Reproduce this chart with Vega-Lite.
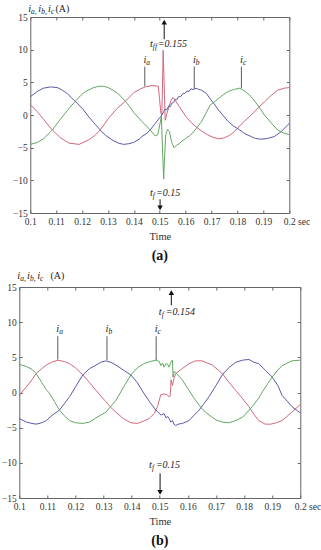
{
  "$schema": "https://vega.github.io/schema/vega-lite/v6.json",
  "padding": {"top": 3, "left": 1, "right": 0, "bottom": 0},
  "background": "white",
  "datasets": {
    "ca": [
      {"s":"ia","t":0.1000,"v":1.6},{"s":"ia","t":0.1027,"v":0.5},{"s":"ia","t":0.1052,"v":-0.7},{"s":"ia","t":0.1085,"v":-2.3},{"s":"ia","t":0.1117,"v":-3.5},{"s":"ia","t":0.1149,"v":-4.3},{"s":"ia","t":0.1188,"v":-4.5},{"s":"ia","t":0.1226,"v":-3.8},{"s":"ia","t":0.1250,"v":-3.1},{"s":"ia","t":0.1270,"v":-2.3},{"s":"ia","t":0.1302,"v":-0.5},{"s":"ia","t":0.1335,"v":1.0},{"s":"ia","t":0.1367,"v":2.1},{"s":"ia","t":0.1399,"v":3.4},{"s":"ia","t":0.1425,"v":4.0},{"s":"ia","t":0.1444,"v":4.3},{"s":"ia","t":0.1470,"v":4.5},{"s":"ia","t":0.1494,"v":4.4},{"s":"ia","t":0.1499,"v":2.5},{"s":"ia","t":0.1504,"v":0.3},{"s":"ia","t":0.1508,"v":0.0},{"s":"ia","t":0.1513,"v":9.9},{"s":"ia","t":0.1518,"v":3.0},{"s":"ia","t":0.1521,"v":-0.8},{"s":"ia","t":0.1527,"v":0.2},{"s":"ia","t":0.1535,"v":1.2},{"s":"ia","t":0.1543,"v":2.2},{"s":"ia","t":0.1551,"v":2.7},{"s":"ia","t":0.1560,"v":2.2},{"s":"ia","t":0.1575,"v":1.3},{"s":"ia","t":0.1600,"v":-0.2},{"s":"ia","t":0.1620,"v":-1.1},{"s":"ia","t":0.1643,"v":-1.9},{"s":"ia","t":0.1663,"v":-2.5},{"s":"ia","t":0.1683,"v":-3.0},{"s":"ia","t":0.1705,"v":-3.4},{"s":"ia","t":0.1726,"v":-3.65},{"s":"ia","t":0.1750,"v":-3.5},{"s":"ia","t":0.1770,"v":-3.1},{"s":"ia","t":0.1789,"v":-2.5},{"s":"ia","t":0.1820,"v":-1.2},{"s":"ia","t":0.1853,"v":0.0},{"s":"ia","t":0.1880,"v":1.1},{"s":"ia","t":0.1904,"v":2.0},{"s":"ia","t":0.1930,"v":3.0},{"s":"ia","t":0.1955,"v":3.8},{"s":"ia","t":0.1980,"v":4.1},{"s":"ia","t":0.2000,"v":4.2},
      {"s":"ib","t":0.1000,"v":2.8},{"s":"ib","t":0.1027,"v":3.6},{"s":"ib","t":0.1050,"v":4.1},{"s":"ib","t":0.1078,"v":4.3},{"s":"ib","t":0.1104,"v":4.2},{"s":"ib","t":0.1120,"v":3.9},{"s":"ib","t":0.1142,"v":3.3},{"s":"ib","t":0.1160,"v":2.6},{"s":"ib","t":0.1181,"v":1.8},{"s":"ib","t":0.1205,"v":0.8},{"s":"ib","t":0.1226,"v":-0.3},{"s":"ib","t":0.1250,"v":-1.4},{"s":"ib","t":0.1270,"v":-2.3},{"s":"ib","t":0.1290,"v":-3.1},{"s":"ib","t":0.1315,"v":-3.8},{"s":"ib","t":0.1340,"v":-4.3},{"s":"ib","t":0.1360,"v":-4.5},{"s":"ib","t":0.1380,"v":-4.4},{"s":"ib","t":0.1399,"v":-4.2},{"s":"ib","t":0.1420,"v":-3.7},{"s":"ib","t":0.1431,"v":-3.3},{"s":"ib","t":0.1450,"v":-2.8},{"s":"ib","t":0.1463,"v":-2.3},{"s":"ib","t":0.1480,"v":-1.4},{"s":"ib","t":0.1500,"v":-0.4},{"s":"ib","t":0.1508,"v":0.0},{"s":"ib","t":0.1515,"v":0.5},{"s":"ib","t":0.1520,"v":0.9},{"s":"ib","t":0.1527,"v":0.8},{"s":"ib","t":0.1535,"v":1.4},{"s":"ib","t":0.1541,"v":1.3},{"s":"ib","t":0.1546,"v":1.8},{"s":"ib","t":0.1553,"v":1.9},{"s":"ib","t":0.1560,"v":2.4},{"s":"ib","t":0.1565,"v":2.3},{"s":"ib","t":0.1572,"v":2.8},{"s":"ib","t":0.1580,"v":2.8},{"s":"ib","t":0.1590,"v":3.3},{"s":"ib","t":0.1597,"v":3.3},{"s":"ib","t":0.1605,"v":3.7},{"s":"ib","t":0.1613,"v":3.6},{"s":"ib","t":0.1620,"v":4.0},{"s":"ib","t":0.1629,"v":3.9},{"s":"ib","t":0.1640,"v":4.1},{"s":"ib","t":0.1650,"v":3.9},{"s":"ib","t":0.1661,"v":3.8},{"s":"ib","t":0.1680,"v":3.3},{"s":"ib","t":0.1694,"v":2.5},{"s":"ib","t":0.1710,"v":1.7},{"s":"ib","t":0.1726,"v":0.8},{"s":"ib","t":0.1745,"v":-0.1},{"s":"ib","t":0.1764,"v":-1.0},{"s":"ib","t":0.1785,"v":-1.7},{"s":"ib","t":0.1809,"v":-2.3},{"s":"ib","t":0.1830,"v":-2.9},{"s":"ib","t":0.1853,"v":-3.3},{"s":"ib","t":0.1870,"v":-3.6},{"s":"ib","t":0.1891,"v":-3.7},{"s":"ib","t":0.1915,"v":-3.6},{"s":"ib","t":0.1942,"v":-3.3},{"s":"ib","t":0.1970,"v":-2.5},{"s":"ib","t":0.1994,"v":-1.5},{"s":"ib","t":0.2000,"v":-1.3},
      {"s":"ic","t":0.1000,"v":-4.5},{"s":"ic","t":0.1027,"v":-4.2},{"s":"ic","t":0.1052,"v":-3.6},{"s":"ic","t":0.1085,"v":-2.3},{"s":"ic","t":0.1100,"v":-1.5},{"s":"ic","t":0.1117,"v":-0.6},{"s":"ic","t":0.1149,"v":1.0},{"s":"ic","t":0.1174,"v":2.1},{"s":"ic","t":0.1195,"v":3.0},{"s":"ic","t":0.1213,"v":3.6},{"s":"ic","t":0.1245,"v":4.2},{"s":"ic","t":0.1265,"v":4.4},{"s":"ic","t":0.1283,"v":4.4},{"s":"ic","t":0.1300,"v":4.2},{"s":"ic","t":0.1315,"v":3.9},{"s":"ic","t":0.1341,"v":3.2},{"s":"ic","t":0.1367,"v":2.1},{"s":"ic","t":0.1385,"v":1.2},{"s":"ic","t":0.1399,"v":0.4},{"s":"ic","t":0.1431,"v":-1.0},{"s":"ic","t":0.1463,"v":-2.3},{"s":"ic","t":0.1482,"v":-3.2},{"s":"ic","t":0.1492,"v":-3.0},{"s":"ic","t":0.1500,"v":-1.5},{"s":"ic","t":0.1506,"v":-0.2},{"s":"ic","t":0.1511,"v":-6.0},{"s":"ic","t":0.1515,"v":-9.8},{"s":"ic","t":0.1519,"v":-6.0},{"s":"ic","t":0.1523,"v":-3.0},{"s":"ic","t":0.1530,"v":-2.2},{"s":"ic","t":0.1537,"v":-2.5},{"s":"ic","t":0.1546,"v":-4.2},{"s":"ic","t":0.1555,"v":-5.0},{"s":"ic","t":0.1565,"v":-4.6},{"s":"ic","t":0.1575,"v":-4.4},{"s":"ic","t":0.1585,"v":-4.0},{"s":"ic","t":0.1600,"v":-3.6},{"s":"ic","t":0.1618,"v":-3.1},{"s":"ic","t":0.1636,"v":-2.3},{"s":"ic","t":0.1661,"v":-1.0},{"s":"ic","t":0.1680,"v":0.4},{"s":"ic","t":0.1694,"v":1.5},{"s":"ic","t":0.1726,"v":2.5},{"s":"ic","t":0.1745,"v":3.1},{"s":"ic","t":0.1764,"v":3.6},{"s":"ic","t":0.1785,"v":3.9},{"s":"ic","t":0.1809,"v":4.1},{"s":"ic","t":0.1830,"v":3.6},{"s":"ic","t":0.1853,"v":2.8},{"s":"ic","t":0.1880,"v":1.4},{"s":"ic","t":0.1904,"v":0.0},{"s":"ic","t":0.1930,"v":-1.2},{"s":"ic","t":0.1955,"v":-2.3},{"s":"ic","t":0.1980,"v":-2.8},{"s":"ic","t":0.2000,"v":-3.0}
    ],
    "cb": [
      {"s":"ia","t":0.1000,"v":-0.4},{"s":"ia","t":0.1025,"v":0.8},{"s":"ia","t":0.1045,"v":1.8},{"s":"ia","t":0.1060,"v":2.7},{"s":"ia","t":0.1080,"v":3.4},{"s":"ia","t":0.1096,"v":3.9},{"s":"ia","t":0.1115,"v":4.3},{"s":"ia","t":0.1137,"v":4.6},{"s":"ia","t":0.1160,"v":4.4},{"s":"ia","t":0.1179,"v":4.1},{"s":"ia","t":0.1200,"v":3.5},{"s":"ia","t":0.1226,"v":2.5},{"s":"ia","t":0.1250,"v":1.4},{"s":"ia","t":0.1273,"v":0.3},{"s":"ia","t":0.1290,"v":-0.5},{"s":"ia","t":0.1308,"v":-1.3},{"s":"ia","t":0.1325,"v":-2.1},{"s":"ia","t":0.1344,"v":-2.8},{"s":"ia","t":0.1370,"v":-3.7},{"s":"ia","t":0.1397,"v":-4.3},{"s":"ia","t":0.1420,"v":-4.4},{"s":"ia","t":0.1440,"v":-4.1},{"s":"ia","t":0.1462,"v":-3.7},{"s":"ia","t":0.1480,"v":-3.0},{"s":"ia","t":0.1492,"v":-2.0},{"s":"ia","t":0.1500,"v":-0.8},{"s":"ia","t":0.1504,"v":-0.3},{"s":"ia","t":0.1515,"v":-0.2},{"s":"ia","t":0.1525,"v":-0.3},{"s":"ia","t":0.1533,"v":-0.6},{"s":"ia","t":0.1537,"v":-0.5},{"s":"ia","t":0.1540,"v":1.8},{"s":"ia","t":0.1545,"v":1.0},{"s":"ia","t":0.1550,"v":2.0},{"s":"ia","t":0.1557,"v":2.7},{"s":"ia","t":0.1580,"v":3.4},{"s":"ia","t":0.1604,"v":4.1},{"s":"ia","t":0.1627,"v":4.5},{"s":"ia","t":0.1650,"v":4.5},{"s":"ia","t":0.1675,"v":4.1},{"s":"ia","t":0.1687,"v":3.9},{"s":"ia","t":0.1722,"v":2.7},{"s":"ia","t":0.1745,"v":1.5},{"s":"ia","t":0.1770,"v":0.3},{"s":"ia","t":0.1795,"v":-0.9},{"s":"ia","t":0.1817,"v":-2.0},{"s":"ia","t":0.1835,"v":-3.1},{"s":"ia","t":0.1852,"v":-4.0},{"s":"ia","t":0.1875,"v":-4.5},{"s":"ia","t":0.1895,"v":-4.5},{"s":"ia","t":0.1915,"v":-4.3},{"s":"ia","t":0.1935,"v":-4.0},{"s":"ia","t":0.1970,"v":-2.8},{"s":"ia","t":0.2000,"v":-1.7},
      {"s":"ib","t":0.1000,"v":-3.7},{"s":"ib","t":0.1025,"v":-4.2},{"s":"ib","t":0.1045,"v":-4.4},{"s":"ib","t":0.1060,"v":-4.5},{"s":"ib","t":0.1080,"v":-4.3},{"s":"ib","t":0.1096,"v":-4.0},{"s":"ib","t":0.1115,"v":-3.3},{"s":"ib","t":0.1143,"v":-2.5},{"s":"ib","t":0.1160,"v":-1.6},{"s":"ib","t":0.1179,"v":-0.6},{"s":"ib","t":0.1200,"v":0.8},{"s":"ib","t":0.1226,"v":2.5},{"s":"ib","t":0.1250,"v":3.4},{"s":"ib","t":0.1273,"v":3.9},{"s":"ib","t":0.1290,"v":4.3},{"s":"ib","t":0.1308,"v":4.5},{"s":"ib","t":0.1325,"v":4.3},{"s":"ib","t":0.1344,"v":3.9},{"s":"ib","t":0.1370,"v":3.2},{"s":"ib","t":0.1397,"v":2.5},{"s":"ib","t":0.1420,"v":1.4},{"s":"ib","t":0.1443,"v":-0.1},{"s":"ib","t":0.1465,"v":-1.4},{"s":"ib","t":0.1486,"v":-2.5},{"s":"ib","t":0.1504,"v":-3.2},{"s":"ib","t":0.1515,"v":-3.0},{"s":"ib","t":0.1522,"v":-3.6},{"s":"ib","t":0.1528,"v":-3.4},{"s":"ib","t":0.1533,"v":-3.7},{"s":"ib","t":0.1539,"v":-4.2},{"s":"ib","t":0.1545,"v":-4.0},{"s":"ib","t":0.1550,"v":-4.5},{"s":"ib","t":0.1557,"v":-4.7},{"s":"ib","t":0.1565,"v":-4.5},{"s":"ib","t":0.1580,"v":-4.4},{"s":"ib","t":0.1604,"v":-4.0},{"s":"ib","t":0.1620,"v":-3.3},{"s":"ib","t":0.1640,"v":-2.5},{"s":"ib","t":0.1657,"v":-1.6},{"s":"ib","t":0.1675,"v":-0.6},{"s":"ib","t":0.1700,"v":1.0},{"s":"ib","t":0.1722,"v":2.5},{"s":"ib","t":0.1745,"v":3.5},{"s":"ib","t":0.1770,"v":4.3},{"s":"ib","t":0.1795,"v":4.6},{"s":"ib","t":0.1817,"v":4.7},{"s":"ib","t":0.1835,"v":4.3},{"s":"ib","t":0.1852,"v":4.1},{"s":"ib","t":0.1875,"v":3.2},{"s":"ib","t":0.1900,"v":2.2},{"s":"ib","t":0.1920,"v":1.0},{"s":"ib","t":0.1935,"v":-0.4},{"s":"ib","t":0.1955,"v":-1.3},{"s":"ib","t":0.1970,"v":-2.0},{"s":"ib","t":0.1990,"v":-2.6},{"s":"ib","t":0.2000,"v":-2.9},
      {"s":"ic","t":0.1000,"v":4.0},{"s":"ic","t":0.1025,"v":3.7},{"s":"ic","t":0.1045,"v":3.3},{"s":"ic","t":0.1060,"v":2.7},{"s":"ic","t":0.1080,"v":1.4},{"s":"ic","t":0.1096,"v":0.4},{"s":"ic","t":0.1107,"v":-0.1},{"s":"ic","t":0.1125,"v":-1.3},{"s":"ic","t":0.1143,"v":-2.5},{"s":"ic","t":0.1160,"v":-3.3},{"s":"ic","t":0.1179,"v":-4.0},{"s":"ic","t":0.1200,"v":-4.3},{"s":"ic","t":0.1226,"v":-4.4},{"s":"ic","t":0.1250,"v":-4.2},{"s":"ic","t":0.1273,"v":-3.6},{"s":"ic","t":0.1308,"v":-2.8},{"s":"ic","t":0.1325,"v":-2.0},{"s":"ic","t":0.1344,"v":-1.1},{"s":"ic","t":0.1370,"v":0.7},{"s":"ic","t":0.1397,"v":2.5},{"s":"ic","t":0.1420,"v":3.5},{"s":"ic","t":0.1443,"v":4.1},{"s":"ic","t":0.1465,"v":4.4},{"s":"ic","t":0.1486,"v":4.6},{"s":"ic","t":0.1498,"v":4.4},{"s":"ic","t":0.1504,"v":3.8},{"s":"ic","t":0.1510,"v":4.2},{"s":"ic","t":0.1515,"v":3.6},{"s":"ic","t":0.1522,"v":4.1},{"s":"ic","t":0.1528,"v":4.0},{"s":"ic","t":0.1533,"v":3.6},{"s":"ic","t":0.1539,"v":4.3},{"s":"ic","t":0.1545,"v":4.6},{"s":"ic","t":0.1547,"v":2.2},{"s":"ic","t":0.1551,"v":3.0},{"s":"ic","t":0.1557,"v":2.8},{"s":"ic","t":0.1580,"v":1.8},{"s":"ic","t":0.1604,"v":0.3},{"s":"ic","t":0.1620,"v":-0.7},{"s":"ic","t":0.1640,"v":-1.8},{"s":"ic","t":0.1657,"v":-2.6},{"s":"ic","t":0.1675,"v":-3.2},{"s":"ic","t":0.1700,"v":-3.9},{"s":"ic","t":0.1722,"v":-4.2},{"s":"ic","t":0.1746,"v":-4.3},{"s":"ic","t":0.1770,"v":-4.0},{"s":"ic","t":0.1795,"v":-3.5},{"s":"ic","t":0.1829,"v":-2.0},{"s":"ic","t":0.1852,"v":-0.8},{"s":"ic","t":0.1865,"v":0.1},{"s":"ic","t":0.1885,"v":1.3},{"s":"ic","t":0.1900,"v":2.2},{"s":"ic","t":0.1920,"v":3.2},{"s":"ic","t":0.1935,"v":3.8},{"s":"ic","t":0.1970,"v":4.5},{"s":"ic","t":0.2000,"v":4.6}
    ],
    "ruleA": [
      {"t":0.1442,"v1":4.4,"v2":7.4,"k":"lead"},{"t":0.1633,"v1":4.0,"v2":7.4,"k":"lead"},{"t":0.1815,"v1":4.1,"v2":7.4,"k":"lead"},
      {"t":0.1517,"v1":11.6,"v2":14.3,"k":"arrow"},{"t":0.1501,"v1":-12.9,"v2":-14.3,"k":"arrow"}
    ],
    "headA": [{"t":0.1517,"v":14.2,"dir":"up"},{"t":0.1501,"v":-14.2,"dir":"down"}],
    "textA": [
      {"t":0.1448,"v":8.4,"m":"i","s":"a"},{"t":0.1639,"v":8.4,"m":"i","s":"b"},{"t":0.1821,"v":8.4,"m":"i","s":"c"},
      {"t":0.1473,"v":10.9,"m":"t","s":"ff","t2":0.1492,"r":"=0.155"},
      {"t":0.1473,"v":-11.9,"m":"t","s":"f","t2":0.1485,"r":"=0.15"},
      {"t":0.1003,"v":16.3,"m":"i","s":"a,"},{"t":0.1042,"v":16.3,"m":"i","s":"b,"},{"t":0.1080,"v":16.3,"m":"i","s":"c","t2":0.1097,"u":"(A)"}
    ],
    "ruleB": [
      {"t":0.1137,"v1":4.7,"v2":8.0,"k":"lead"},{"t":0.1312,"v1":4.6,"v2":8.0,"k":"lead"},{"t":0.1487,"v1":4.6,"v2":8.0,"k":"lead"},
      {"t":0.1541,"v1":12.4,"v2":14.3,"k":"arrow"},{"t":0.1501,"v1":-11.5,"v2":-14.3,"k":"arrow"}
    ],
    "headB": [{"t":0.1541,"v":14.2,"dir":"up"},{"t":0.1501,"v":-14.2,"dir":"down"}],
    "textB": [
      {"t":0.1142,"v":9.0,"m":"i","s":"a"},{"t":0.1317,"v":9.0,"m":"i","s":"b"},{"t":0.1492,"v":9.0,"m":"i","s":"c"},
      {"t":0.1507,"v":11.4,"m":"t","s":"f","t2":0.1521,"r":"=0.154"},
      {"t":0.1472,"v":-10.3,"m":"t","s":"f","t2":0.1486,"r":"=0.15"},
      {"t":0.1003,"v":16.5,"m":"i","s":"a,"},{"t":0.1038,"v":16.5,"m":"i","s":"b,"},{"t":0.1074,"v":16.5,"m":"i","s":"c","t2":0.1111,"u":"(A)"}
    ]
  },
  "vconcat": [
    {
      "width": 259, "height": 196,
      "title": {"text": "(a)", "orient": "bottom", "fontSize": 14, "fontWeight": "bold", "font": "'Liberation Serif', 'DejaVu Serif', serif", "color": "#111", "offset": 7},
      "layer": [
        {
          "data": {"name": "ca"},
          "mark": {"type": "line", "strokeWidth": 1},
          "encoding": {
            "x": {"field": "t", "type": "quantitative", "scale": {"domain": [0.1, 0.2], "nice": false, "zero": false},
              "axis": {"orient": "bottom", "title": "Time", "values": [0.1,0.11,0.12,0.13,0.14,0.15,0.16,0.17,0.18,0.19,0.2],
                "labelExpr": "datum.value >= 0.1999 ? '0.2 sec' : format(datum.value, '.2~f')",
                "labelAlign": {"condition": {"test": "datum.value >= 0.1999", "value": "left"}, "value": "center"},
                "labelOffset": {"condition": {"test": "datum.value >= 0.1999", "value": -6}, "value": 0}}},
            "y": {"field": "v", "type": "quantitative", "scale": {"domain": [-15, 15], "nice": false},
              "axis": {"orient": "left", "title": null, "values": [-15,-10,-5,0,5,10,15]}},
            "color": {"field": "s", "type": "nominal", "scale": {"domain": ["ia","ib","ic"], "range": ["#d0687c","#5a5aaa","#62a862"]}, "legend": null}
          }
        },
        {
          "data": {"name": "ruleA"},
          "mark": {"type": "rule", "strokeWidth": 1},
          "encoding": {
            "x": {"field": "t", "type": "quantitative", "axis": {"orient": "top", "labels": false, "title": null, "values": [0.1,0.11,0.12,0.13,0.14,0.15,0.16,0.17,0.18,0.19,0.2]}},
            "y": {"field": "v1", "type": "quantitative", "axis": {"orient": "right", "labels": false, "title": null, "values": [-15,-10,-5,0,5,10,15]}},
            "y2": {"field": "v2"},
            "color": {"field": "k", "type": "nominal", "scale": {"domain": ["lead","arrow"], "range": ["#5a5a5a","#111111"]}, "legend": null}
          }
        },
        {
          "data": {"name": "headA"},
          "mark": {"type": "point", "filled": true, "size": 30, "color": "#111", "opacity": 1},
          "encoding": {
            "x": {"field": "t", "type": "quantitative", "axis": null},
            "y": {"field": "v", "type": "quantitative", "axis": null},
            "shape": {"field": "dir", "type": "nominal", "scale": {"domain": ["up","down"], "range": ["triangle-up","triangle-down"]}, "legend": null}
          }
        },
        {
          "data": {"name": "textA"},
          "mark": {"type": "text", "align": "right", "baseline": "middle", "fontSize": 10.5, "fontStyle": "italic", "font": "'Liberation Serif', 'DejaVu Serif', serif", "color": "#222"},
          "encoding": {"x": {"field": "t", "type": "quantitative", "axis": null}, "y": {"field": "v", "type": "quantitative", "axis": null}, "text": {"field": "m"}}
        },
        {
          "data": {"name": "textA"},
          "mark": {"type": "text", "align": "left", "baseline": "middle", "dy": 3, "fontSize": 7.5, "fontStyle": "italic", "font": "'Liberation Serif', 'DejaVu Serif', serif", "color": "#222"},
          "encoding": {"x": {"field": "t", "type": "quantitative", "axis": null}, "y": {"field": "v", "type": "quantitative", "axis": null}, "text": {"field": "s"}}
        },
        {
          "data": {"name": "textA"},
          "transform": [{"filter": "isValid(datum.r)"}],
          "mark": {"type": "text", "align": "left", "baseline": "middle", "fontSize": 10, "fontStyle": "italic", "font": "'Liberation Serif', 'DejaVu Serif', serif", "color": "#222"},
          "encoding": {"x": {"field": "t2", "type": "quantitative", "axis": null}, "y": {"field": "v", "type": "quantitative", "axis": null}, "text": {"field": "r"}}
        },
        {
          "data": {"name": "textA"},
          "transform": [{"filter": "isValid(datum.u)"}],
          "mark": {"type": "text", "align": "left", "baseline": "middle", "fontSize": 10, "font": "'Liberation Serif', 'DejaVu Serif', serif", "color": "#222"},
          "encoding": {"x": {"field": "t2", "type": "quantitative", "axis": null}, "y": {"field": "v", "type": "quantitative", "axis": null}, "text": {"field": "u"}}
        }
      ],
      "resolve": {"axis": {"x": "independent", "y": "independent"}, "scale": {"color": "independent"}}
    },
    {
      "width": 281, "height": 211,
      "title": {"text": "(b)", "orient": "bottom", "fontSize": 14, "fontWeight": "bold", "font": "'Liberation Serif', 'DejaVu Serif', serif", "color": "#111", "offset": 7},
      "layer": [
        {
          "data": {"name": "cb"},
          "mark": {"type": "line", "strokeWidth": 1},
          "encoding": {
            "x": {"field": "t", "type": "quantitative", "scale": {"domain": [0.1, 0.2], "nice": false, "zero": false},
              "axis": {"orient": "bottom", "title": "Time", "values": [0.1,0.11,0.12,0.13,0.14,0.15,0.16,0.17,0.18,0.19,0.2],
                "labelExpr": "datum.value >= 0.1999 ? '0.2 sec' : format(datum.value, '.2~f')",
                "labelAlign": {"condition": {"test": "datum.value >= 0.1999", "value": "left"}, "value": "center"},
                "labelOffset": {"condition": {"test": "datum.value >= 0.1999", "value": -6}, "value": 0}}},
            "y": {"field": "v", "type": "quantitative", "scale": {"domain": [-15, 15], "nice": false},
              "axis": {"orient": "left", "title": null, "values": [-15,-10,-5,0,5,10,15]}},
            "color": {"field": "s", "type": "nominal", "scale": {"domain": ["ia","ib","ic"], "range": ["#d0687c","#5a5aaa","#62a862"]}, "legend": null}
          }
        },
        {
          "data": {"name": "ruleB"},
          "mark": {"type": "rule", "strokeWidth": 1},
          "encoding": {
            "x": {"field": "t", "type": "quantitative", "axis": {"orient": "top", "labels": false, "title": null, "values": [0.1,0.11,0.12,0.13,0.14,0.15,0.16,0.17,0.18,0.19,0.2]}},
            "y": {"field": "v1", "type": "quantitative", "axis": {"orient": "right", "labels": false, "title": null, "values": [-15,-10,-5,0,5,10,15]}},
            "y2": {"field": "v2"},
            "color": {"field": "k", "type": "nominal", "scale": {"domain": ["lead","arrow"], "range": ["#5a5a5a","#111111"]}, "legend": null}
          }
        },
        {
          "data": {"name": "headB"},
          "mark": {"type": "point", "filled": true, "size": 30, "color": "#111", "opacity": 1},
          "encoding": {
            "x": {"field": "t", "type": "quantitative", "axis": null},
            "y": {"field": "v", "type": "quantitative", "axis": null},
            "shape": {"field": "dir", "type": "nominal", "scale": {"domain": ["up","down"], "range": ["triangle-up","triangle-down"]}, "legend": null}
          }
        },
        {
          "data": {"name": "textB"},
          "mark": {"type": "text", "align": "right", "baseline": "middle", "fontSize": 10.5, "fontStyle": "italic", "font": "'Liberation Serif', 'DejaVu Serif', serif", "color": "#222"},
          "encoding": {"x": {"field": "t", "type": "quantitative", "axis": null}, "y": {"field": "v", "type": "quantitative", "axis": null}, "text": {"field": "m"}}
        },
        {
          "data": {"name": "textB"},
          "mark": {"type": "text", "align": "left", "baseline": "middle", "dy": 3, "fontSize": 7.5, "fontStyle": "italic", "font": "'Liberation Serif', 'DejaVu Serif', serif", "color": "#222"},
          "encoding": {"x": {"field": "t", "type": "quantitative", "axis": null}, "y": {"field": "v", "type": "quantitative", "axis": null}, "text": {"field": "s"}}
        },
        {
          "data": {"name": "textB"},
          "transform": [{"filter": "isValid(datum.r)"}],
          "mark": {"type": "text", "align": "left", "baseline": "middle", "fontSize": 10, "fontStyle": "italic", "font": "'Liberation Serif', 'DejaVu Serif', serif", "color": "#222"},
          "encoding": {"x": {"field": "t2", "type": "quantitative", "axis": null}, "y": {"field": "v", "type": "quantitative", "axis": null}, "text": {"field": "r"}}
        },
        {
          "data": {"name": "textB"},
          "transform": [{"filter": "isValid(datum.u)"}],
          "mark": {"type": "text", "align": "left", "baseline": "middle", "fontSize": 10, "font": "'Liberation Serif', 'DejaVu Serif', serif", "color": "#222"},
          "encoding": {"x": {"field": "t2", "type": "quantitative", "axis": null}, "y": {"field": "v", "type": "quantitative", "axis": null}, "text": {"field": "u"}}
        }
      ],
      "resolve": {"axis": {"x": "independent", "y": "independent"}, "scale": {"color": "independent"}}
    }
  ],
  "center": true,
  "spacing": 8,
  "config": {
    "font": "'Liberation Serif', 'DejaVu Serif', serif",
    "view": {"stroke": null},
    "axis": {
      "grid": false,
      "domainColor": "#666666",
      "tickColor": "#666666",
      "tickSize": -3,
      "labelPadding": 6,
      "labelFont": "'Liberation Serif', 'DejaVu Serif', serif",
      "labelFontSize": 9.5,
      "labelColor": "#333333",
      "labelOverlap": false,
      "titleFont": "'Liberation Serif', 'DejaVu Serif', serif",
      "titleFontSize": 10.5,
      "titleFontWeight": "normal",
      "titleColor": "#333333",
      "titlePadding": 6
    }
  }
}
